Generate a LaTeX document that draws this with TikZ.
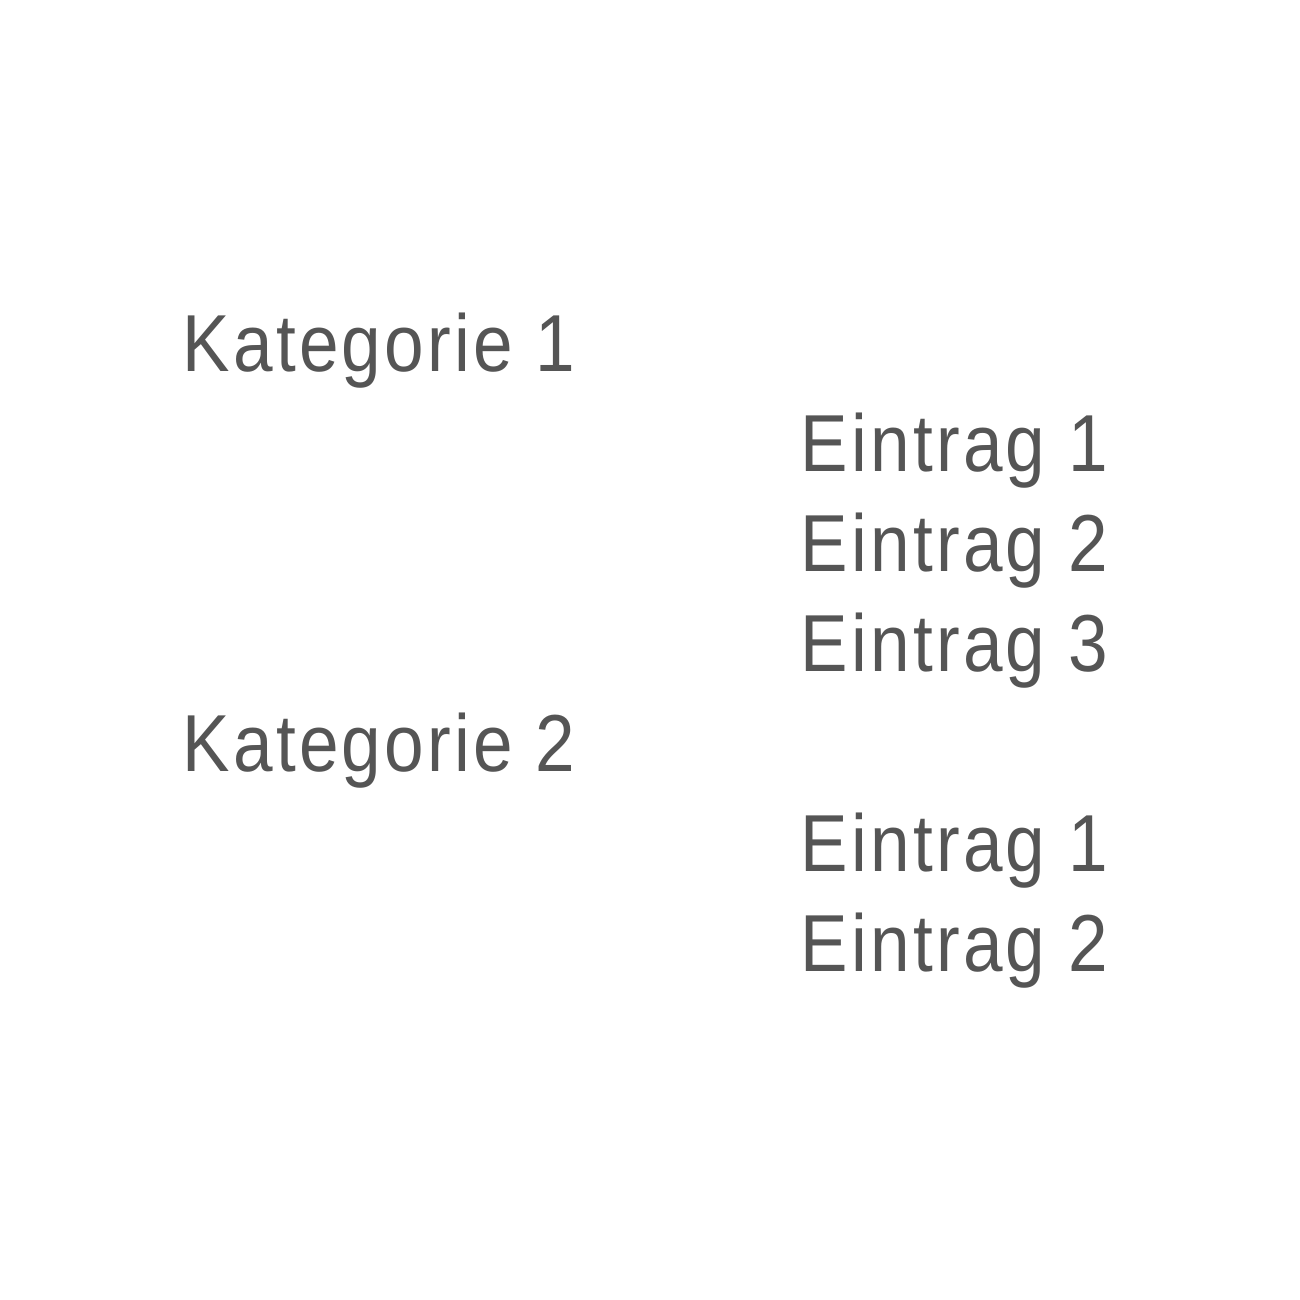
\documentclass[tikz,border=0pt]{standalone}
\usepackage{fontspec}
\setmainfont{Liberation Sans}[FakeStretch=0.88,LetterSpace=4]
\definecolor{txtgray}{HTML}{555555}
\begin{document}
\begin{tikzpicture}
\useasboundingbox (0,0) rectangle (13,13);
\tikzset{lbl/.style={anchor=base west, inner sep=0pt, text=txtgray, font=\fontsize{23}{28}\selectfont}}
\node[lbl] (k1) at (1.82,9.28) {Kategorie 1};
\node[lbl] (k1e1) at (8.00,8.28) {Eintrag 1};
\node[lbl] (k1e2) at (8.00,7.28) {Eintrag 2};
\node[lbl] (k1e3) at (8.00,6.28) {Eintrag 3};
\node[lbl] (k2) at (1.82,5.28) {Kategorie 2};
\node[lbl] (k2e1) at (8.00,4.28) {Eintrag 1};
\node[lbl] (k2e2) at (8.00,3.28) {Eintrag 2};
\end{tikzpicture}
\end{document}
